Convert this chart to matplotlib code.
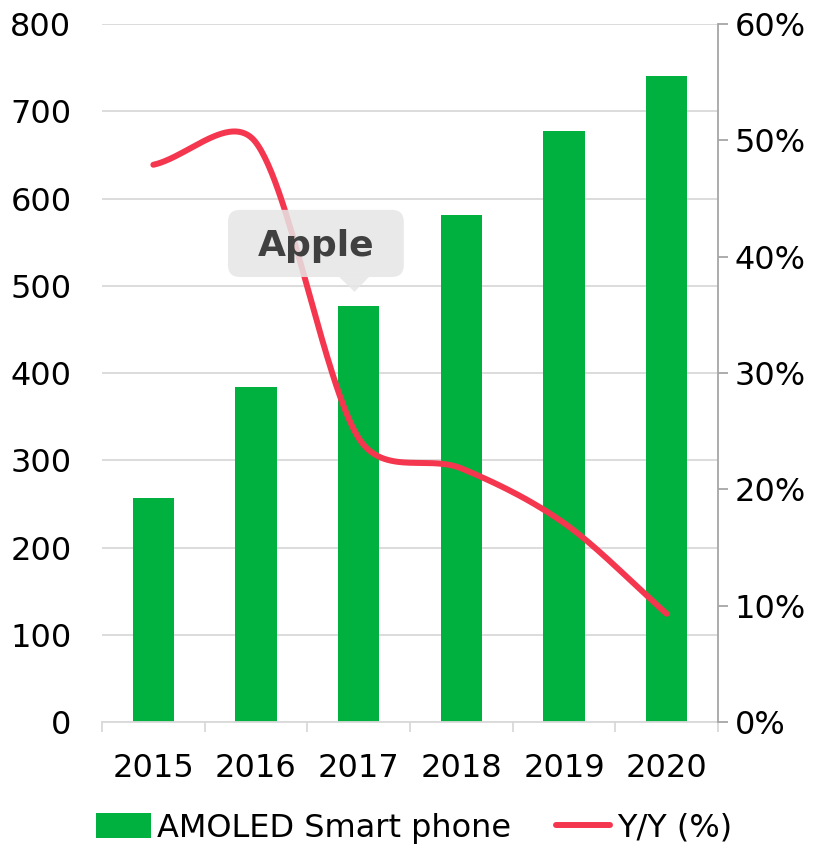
import numpy as np
import matplotlib
matplotlib.use("Agg")
import matplotlib.pyplot as plt
from matplotlib.patches import FancyBboxPatch, Polygon, Patch
from matplotlib.lines import Line2D

years = ["2015", "2016", "2017", "2018", "2019", "2020"]
amoled = [257, 384, 477, 581, 677, 740]
yoy = [47.9, 49.8, 24.4, 21.8, 17.1, 9.3]

GREEN = "#00B140"
RED = "#F5364F"
GRID = "#D9D9D9"
FS = 23

plt.rcParams["font.family"] = ["DejaVu Sans"]

fig = plt.figure(figsize=(8.25, 8.47), dpi=100)
ax = fig.add_axes([102/825, 1-722/847, (718-102)/825, (722-24)/847])
ax2 = ax.twinx()

x = np.arange(len(years))
ax.bar(x, amoled, width=0.4, color=GREEN, zorder=2)
ax.set_xlim(-0.5, len(years)-0.5)
ax.set_ylim(0, 800)
ax.set_yticks(np.arange(0, 801, 100))
ax.yaxis.grid(True, color=GRID, linewidth=1.3, zorder=0)
ax.set_axisbelow(True)
for s in ["top", "left", "right"]:
    ax.spines[s].set_visible(False)
ax.spines["bottom"].set_color(GRID)
ax.spines["bottom"].set_linewidth(1.3)
ax.tick_params(axis="y", length=0, pad=22, labelsize=FS)
ax.set_xticks(x)
ax.set_xticklabels(years)
ax.tick_params(axis="x", which="major", length=0, pad=22, labelsize=FS)
ax.set_xticks(np.arange(-0.5, len(years), 1.0), minor=True)
ax.tick_params(axis="x", which="minor", length=7, color=GRID, width=1.3)

ax2.set_ylim(0, 60)

# Excel-like smoothed line: bezier, handles softened by segment-length ratio (screen space)
bb = ax.get_window_extent()
sx = bb.width / (len(years))
sy = bb.height / 60.0
P = np.column_stack([x * sx, np.array(yoy) * sy])
n = len(P)
pts = []
tt = np.linspace(0, 1, 60)
for i in range(n - 1):
    p0 = P[max(i-1, 0)]; p1 = P[i]; p2 = P[i+1]; p3 = P[min(i+2, n-1)]
    d01 = np.linalg.norm(p1 - p0); d12 = np.linalg.norm(p2 - p1); d23 = np.linalg.norm(p3 - p2)
    s1 = min(1.0, (2*d12/(d01+d12))**0.5) if i > 0 else 1.0
    s2 = min(1.0, (2*d12/(d12+d23))**0.5) if i < n-2 else 1.0
    c1 = p1 + (p2 - p0) / 6 * s1 if i > 0 else p1 + (p2 - p1) / 3
    c2 = p2 - (p3 - p1) / 6 * s2 if i < n-2 else p2 - (p2 - p1) / 3
    b = (((1-tt)**3)[:, None]*p1 + (3*(1-tt)**2*tt)[:, None]*c1
         + (3*(1-tt)*tt**2)[:, None]*c2 + (tt**3)[:, None]*p2)
    pts.append(b)
pts = np.vstack(pts)
ax2.plot(pts[:, 0]/sx, pts[:, 1]/sy, color=RED, linewidth=4.3,
         solid_capstyle="round", zorder=3)
ax2.set_yticks(np.arange(0, 61, 10))
ax2.set_yticklabels([f"{v}%" for v in range(0, 61, 10)])
for s in ["top", "left", "bottom"]:
    ax2.spines[s].set_visible(False)
ax2.spines["right"].set_color("#A6A6A6")
ax2.spines["right"].set_linewidth(1.3)
ax2.tick_params(axis="y", length=7, width=1.3, color="#A6A6A6", pad=5, labelsize=FS)

# "Apple" callout
box_col = "#E6E6E6"
bx0, bx1, by0, by1 = 0.727, 2.44, 510, 587
rx = 12/102.67
ry = 12/0.8725
callout = FancyBboxPatch((bx0+rx, by0+ry), (bx1-bx0)-2*rx, (by1-by0)-2*ry,
                         boxstyle=f"round,pad={rx},rounding_size={rx}",
                         mutation_aspect=ry/rx, transform=ax.transData,
                         facecolor=box_col, edgecolor="none", alpha=0.85, zorder=5)
ax2.add_patch(callout)
tri = Polygon([[1.81, by0], [2.10, by0], [1.96, 493]], closed=True,
              transform=ax.transData, facecolor=box_col, edgecolor="none",
              alpha=0.85, zorder=5)
ax2.add_patch(tri)
ax2.text(1.584, 545, "Apple", transform=ax.transData, ha="center", va="center",
         fontsize=26, fontweight="bold", color="#404040", zorder=6)

handles = [Patch(facecolor=GREEN, edgecolor="none"),
           Line2D([0], [0], color=RED, linewidth=4.3, solid_capstyle="round")]
fig.legend(handles, ["AMOLED Smart phone", "Y/Y (%)"], loc="center",
           bbox_to_anchor=(0.502, 1-828/847), ncol=2, frameon=False, fontsize=FS,
           handlelength=1.7, handleheight=0.8, handletextpad=0.2, columnspacing=1.4)

fig.savefig("out.png", dpi=100)
